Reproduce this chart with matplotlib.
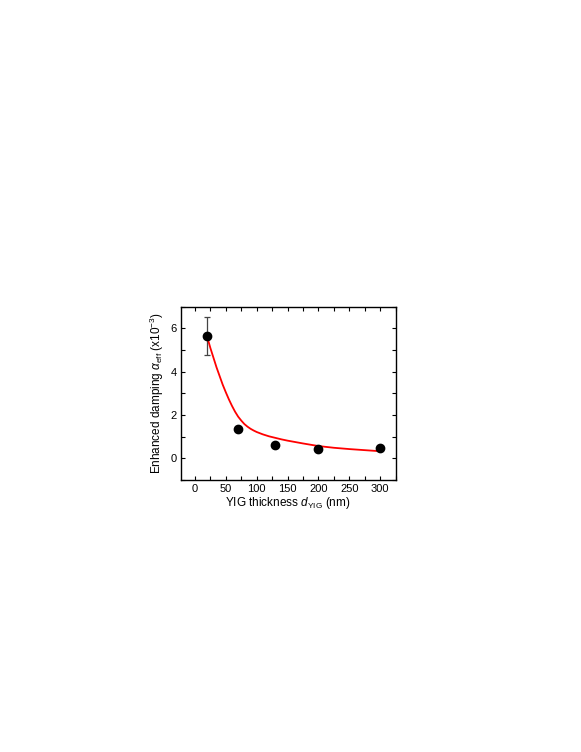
import numpy as np
import matplotlib.pyplot as plt
from matplotlib.ticker import MultipleLocator

plt.rcParams['font.family'] = ['Liberation Sans', 'DejaVu Sans']
plt.rcParams['mathtext.fontset'] = 'custom'
plt.rcParams['mathtext.rm'] = 'Liberation Sans'
plt.rcParams['mathtext.it'] = 'Liberation Sans:italic'

# measured points
thickness = [20, 70, 130, 200, 300]
damping = [5.65, 1.37, 0.63, 0.42, 0.48]
damping_err = [0.86, 0, 0, 0, 0]

# fit curve
fit_x = [20, 25, 30, 35, 40, 45, 50, 55, 60, 65, 70, 75, 80, 85, 90, 95, 100,
         110, 120, 130, 140, 150, 175, 200, 225, 250, 275, 300]
fit_y = [5.6, 5.1, 4.65, 4.2, 3.8, 3.4, 3.05, 2.72, 2.42, 2.15, 1.92, 1.74, 1.58,
         1.46, 1.36, 1.28, 1.21, 1.1, 1.01, 0.94, 0.87, 0.81, 0.68, 0.56, 0.48,
         0.42, 0.37, 0.32]

fig = plt.figure(figsize=(5.81, 7.52), dpi=100)
ax = fig.add_axes([0.311, 0.362, 0.370, 0.230])

ax.plot(fit_x, fit_y, color='red', lw=1.3, zorder=2)
ax.errorbar(thickness[:1], damping[:1], yerr=damping_err[:1], fmt='none',
            ecolor='#444444', elinewidth=0.9, capsize=2.5, capthick=0.9, zorder=1)
ax.plot(thickness, damping, 'o', color='black', ms=6, zorder=3)

ax.set_xlim(-23, 325)
ax.set_ylim(-1, 7)
ax.xaxis.set_major_locator(MultipleLocator(50))
ax.xaxis.set_minor_locator(MultipleLocator(25))
ax.yaxis.set_major_locator(MultipleLocator(2))
ax.yaxis.set_minor_locator(MultipleLocator(1))
ax.tick_params(which='both', direction='in', top=True, right=True,
               labelsize=8, width=0.8, length=3, pad=3)
for s in ax.spines.values():
    s.set_linewidth(1.0)

ax.set_xlabel(r'YIG thickness $d_{\mathrm{YIG}}$ (nm)', fontsize=8.5, labelpad=1)
ax.set_ylabel(r'Enhanced damping $\alpha_{\mathrm{eff}}$ (x10$^{-3}$)', fontsize=8.5, labelpad=3)

fig.savefig('out.png', dpi=100)
